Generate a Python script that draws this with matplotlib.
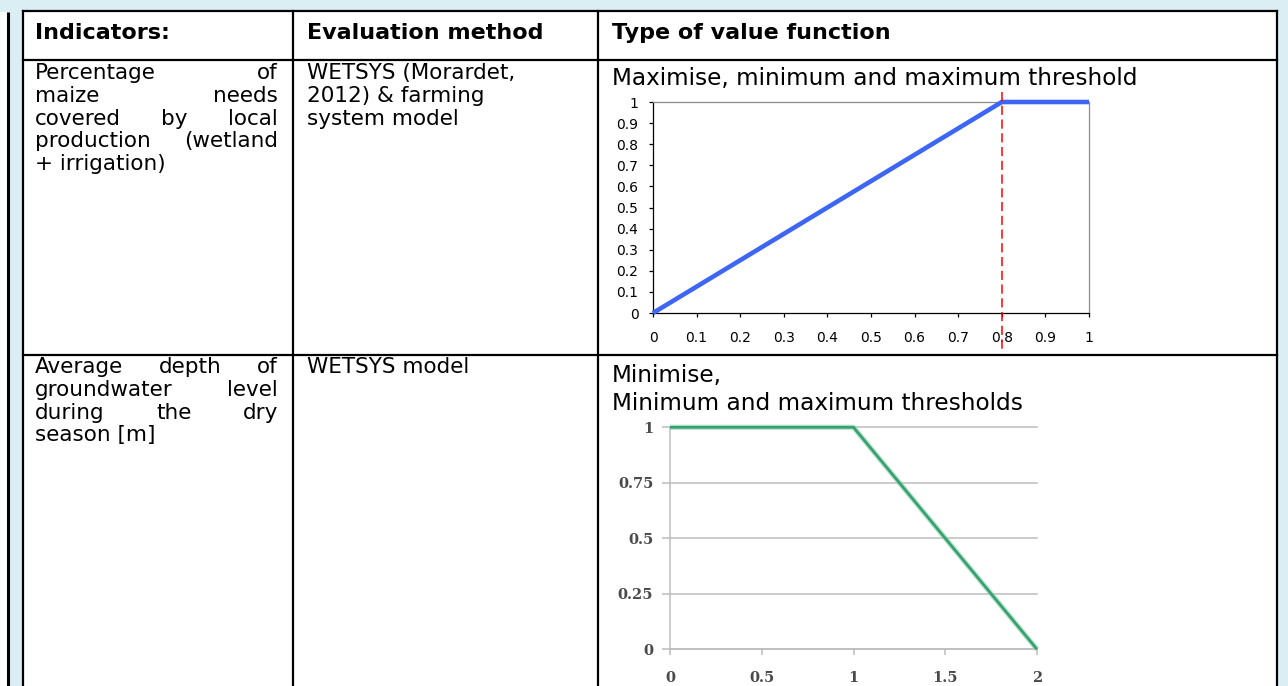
import matplotlib
matplotlib.use("Agg")
import matplotlib.pyplot as plt
from matplotlib.patches import Rectangle

plt.rcParams['font.family'] = ['DejaVu Sans']

# ---------------- data ----------------
headers = ["Indicators:", "Evaluation method", "Type of value function"]

indicator1_lines = ["Percentage of", "maize needs", "covered by local",
                    "production (wetland", "+ irrigation)"]
method1_lines = ["WETSYS (Morardet,", "2012) & farming", "system model"]
type1_lines = ["Maximise, minimum and maximum threshold"]

indicator2_lines = ["Average depth of", "groundwater level", "during the dry",
                    "season [m]"]
method2_lines = ["WETSYS model"]
type2_lines = ["Minimise,", "Minimum and maximum thresholds"]

# value function 1 (maximise)
vf1_x = [0, 0.8, 1]
vf1_y = [0, 1, 1]
vf1_threshold = 0.8
vf1_xticks = [0, 0.1, 0.2, 0.3, 0.4, 0.5, 0.6, 0.7, 0.8, 0.9, 1]
vf1_xlabels = ["0", "0.1", "0.2", "0.3", "0.4", "0.5", "0.6", "0.7", "0.8", "0.9", "1"]
vf1_yticks = [0, 0.1, 0.2, 0.3, 0.4, 0.5, 0.6, 0.7, 0.8, 0.9, 1]
vf1_ylabels = ["0", "0.1", "0.2", "0.3", "0.4", "0.5", "0.6", "0.7", "0.8", "0.9", "1"]

# value function 2 (minimise)
vf2_x = [0, 1, 2]
vf2_y = [1, 1, 0]
vf2_xticks = [0, 0.5, 1, 1.5, 2]
vf2_xlabels = ["0", "0.5", "1", "1.5", "2"]
vf2_yticks = [0, 0.25, 0.5, 0.75, 1]
vf2_ylabels = ["0", "0.25", "0.5", "0.75", "1"]

# ---------------- figure ----------------
W, H = 1288, 686
fig = plt.figure(figsize=(W / 100, H / 100), dpi=100)
fig.patch.set_facecolor('#DBEEF4')

bg = fig.add_axes([0, 0, 1, 1])
bg.set_xlim(0, W)
bg.set_ylim(H, 0)
bg.axis('off')

# table geometry (pixels)
TL, TR, TT = 23, 1277, 11
C1, C2 = 293, 598
R1, R2 = 60, 355

bg.add_patch(Rectangle((TL, TT), TR - TL, H - TT + 5, fc='white', ec='none'))
bg.add_patch(Rectangle((0, 12), 7, H, fc='white', ec='none'))
bg.plot([8, 8], [12, H + 2], color='black', lw=2.2, solid_capstyle='butt')

blw = 1.6
bg.plot([TL, TR], [TT, TT], color='black', lw=blw, solid_capstyle='projecting')
for x in (TL, C1, C2, TR):
    bg.plot([x, x], [TT, H + 2], color='black', lw=blw, solid_capstyle='projecting')
for y in (R1, R2):
    bg.plot([TL, TR], [y, y], color='black', lw=blw, solid_capstyle='projecting')

renderer = fig.canvas.get_renderer()

BODY = 15.5
TYPE = 16.7
HEAD = 16


def left_lines(lines, x, y0, dy, size, weight='normal'):
    for i, s in enumerate(lines):
        bg.text(x, y0 + i * dy, s, fontsize=size, fontweight=weight,
                va='baseline', ha='left', color='black')


def justified(lines, x0, x1, y0, dy, size):
    for i, s in enumerate(lines):
        y = y0 + i * dy
        words = s.split(' ')
        if i == len(lines) - 1 or len(words) == 1:
            bg.text(x0, y, s, fontsize=size, va='baseline', ha='left')
            continue
        texts = [bg.text(0, y, w, fontsize=size, va='baseline', ha='left')
                 for w in words]
        widths = [t.get_window_extent(renderer).width for t in texts]
        gap = (x1 - x0 - sum(widths)) / (len(words) - 1)
        x = x0
        for t, w in zip(texts, widths):
            t.set_x(x)
            x += w + gap


# headers
for x, s in zip((35, 307, 612), headers):
    bg.text(x, 39, s, fontsize=HEAD, fontweight='bold', va='baseline', ha='left')

# row 1
justified(indicator1_lines, 35, 278, 79, 22.8, BODY)
left_lines(method1_lines, 307, 79, 22.8, BODY)
left_lines(type1_lines, 612, 85, 24, TYPE)

# row 2
justified(indicator2_lines, 35, 278, 373, 22.8, BODY)
left_lines(method2_lines, 307, 373, 22.8, BODY)
left_lines(type2_lines, 612, 382, 28.5, TYPE)


def px_rect(l, t, r, b):
    return [l / W, 1 - b / H, (r - l) / W, (b - t) / H]


# ---------------- chart 1 ----------------
ax1 = fig.add_axes(px_rect(653, 102, 1089, 313))
ax1.set_xlim(0, 1)
ax1.set_ylim(0, 1)
ax1.plot(vf1_x, vf1_y, color='#3E66F5', lw=3.3, solid_capstyle='butt',
         clip_on=False, zorder=3)
ax1.plot([vf1_threshold, vf1_threshold], [1.047, -0.175], color='red', lw=1.1,
         ls=(0, (6, 3)), clip_on=False, zorder=4)
ax1.set_xticks(vf1_xticks)
ax1.set_xticklabels(vf1_xlabels)
ax1.set_yticks(vf1_yticks)
ax1.set_yticklabels(vf1_ylabels)
for s in ('left', 'bottom'):
    ax1.spines[s].set_color('black')
    ax1.spines[s].set_linewidth(0.9)
for s in ('top', 'right'):
    ax1.spines[s].set_color('#8C8C8C')
    ax1.spines[s].set_linewidth(0.9)
ax1.tick_params(axis='both', direction='out', length=3, width=0.9,
                color='black', labelsize=10)
ax1.tick_params(axis='y', pad=7.5)
ax1.tick_params(axis='x', pad=10)
ax1.set_facecolor('white')

# ---------------- chart 2 ----------------
ax2 = fig.add_axes(px_rect(670, 427.3, 1037, 649.3))
ax2.set_xlim(0, 2)
ax2.set_ylim(0, 1)
ax2.set_facecolor('white')
for s in ('top', 'right'):
    ax2.spines[s].set_visible(False)
for s in ('left', 'bottom'):
    ax2.spines[s].set_color('#BDBDBD')
    ax2.spines[s].set_linewidth(1.1)
ax2.set_axisbelow(True)
ax2.grid(axis='y', color='#BDBDBD', lw=1.1, clip_on=False)
ax2.set_xticks(vf2_xticks)
ax2.set_xticklabels(vf2_xlabels)
ax2.set_yticks(vf2_yticks)
ax2.set_yticklabels(vf2_ylabels)
ax2.tick_params(axis='y', direction='out', length=6, width=1.1,
                color='#BDBDBD', pad=6)
ax2.tick_params(axis='x', direction='out', length=4.5, width=1.1,
                color='#BDBDBD', pad=11)
for lab in ax2.get_xticklabels() + ax2.get_yticklabels():
    lab.set_fontfamily('DejaVu Serif')
    lab.set_fontweight('bold')
    lab.set_fontsize(10.5)
    lab.set_color('#4A4A4A')
ax2.plot(vf2_x, vf2_y, color='#86D6AE', lw=3.8, clip_on=False, zorder=3,
         alpha=0.6, solid_capstyle='butt')
ax2.plot(vf2_x, vf2_y, color='#3AA070', lw=2.0, clip_on=False, zorder=4,
         solid_capstyle='butt')

fig.savefig('out.png', dpi=100, facecolor=fig.get_facecolor())
